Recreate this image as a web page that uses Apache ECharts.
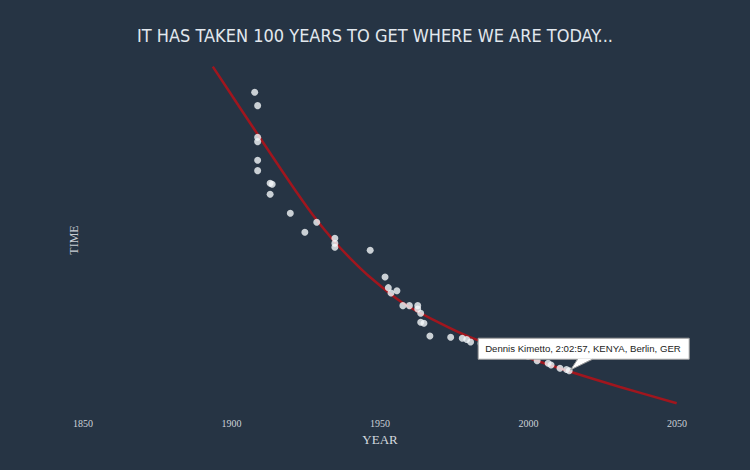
<!DOCTYPE html>
<html><head><meta charset="utf-8">
<script src="https://cdn.jsdelivr.net/npm/echarts@6/dist/echarts.min.js"></script>
<style>html,body{margin:0;padding:0;background:#263444}#c{width:750px;height:470px}</style>
</head><body><div id="c"></div>
<script>
const chartTitle = 'IT HAS TAKEN 100 YEARS TO GET WHERE WE ARE TODAY...';
const xAxisName = 'YEAR';
const yAxisName = 'TIME';
const xTicks = [1850, 1900, 1950, 2000, 2050];

// record points: decimal year and finishing time in seconds
const recordYears = [1907.8, 1908.8, 1908.8, 1908.8, 1908.8, 1908.8, 1913.0, 1913.7, 1913.0, 1919.8,
  1924.7, 1928.7, 1934.8, 1934.8, 1934.8, 1946.7, 1951.7, 1952.8, 1953.7, 1955.7,
  1957.7, 1959.9, 1962.7, 1962.7, 1963.7, 1963.7, 1964.8, 1966.8, 1973.8, 1977.7,
  1979.2, 1980.5, 1984.0, 1985.3, 1988.3, 1998.7, 1999.8, 2002.9, 2006.6, 2007.6,
  2010.6, 2012.8, 2013.7];
const recordSeconds = [10518, 10367, 10010, 9961, 9751, 9634, 9492, 9480, 9367, 9153,
  8939, 9052, 8871, 8815, 8770, 8736, 8435, 8314, 8254, 8280,
  8111, 8111, 8111, 8074, 8025, 7924, 7912, 7769, 7754, 7743,
  7730, 7701, 7685, 7632, 7610, 7565, 7542, 7490, 7461, 7442,
  7405, 7391, 7377];

// trend curve
const trendYears = [1893.7, 1902.9, 1913.0, 1921.4, 1928.7, 1934.8, 1939.9, 1946.6, 1957.7, 1970.2, 1980.3, 1997.1, 2013.3, 2030.8, 2049.9];
const trendSeconds = [10807, 10341, 9833, 9416, 9076, 8829, 8648, 8434, 8141, 7915, 7757, 7554, 7374, 7194, 7010];

const calloutYear = 2013.7;
const calloutSeconds = 7377;
const calloutText = 'Dennis Kimetto, 2:02:57, KENYA, Berlin, GER';

const chart = echarts.init(document.getElementById('c'), null, {renderer: 'svg'});
const serif = "'Liberation Serif', 'DejaVu Serif', serif";
chart.setOption({
  backgroundColor: '#263444',
  animation: false,
  title: {
    text: chartTitle, left: 'center', top: 21,
    textStyle: {color: '#e2e8ee', fontSize: 18, fontWeight: 'normal',
      fontFamily: "'Liberation Sans Narrow', 'DejaVu Sans Condensed', sans-serif"}
  },
  grid: {left: 83, right: 73, top: 60, bottom: 60},
  xAxis: {
    type: 'value', min: xTicks[0], max: xTicks[xTicks.length - 1], interval: 50,
    name: xAxisName, nameLocation: 'middle', nameGap: 19,
    nameTextStyle: {color: '#d3d9df', fontSize: 13, fontFamily: serif},
    axisLine: {show: false}, axisTick: {show: false}, splitLine: {show: false},
    axisLabel: {color: '#ccd2d8', fontSize: 10, fontFamily: serif, margin: 8,
      formatter: v => String(v)}
  },
  yAxis: {
    type: 'value', min: 6934, max: 10882,
    name: yAxisName, nameLocation: 'middle', nameGap: 3, nameRotate: 90,
    nameTextStyle: {color: '#c8ced4', fontSize: 12, fontFamily: serif, padding: [0, 10, 0, 0]},
    axisLine: {show: false}, axisTick: {show: false}, splitLine: {show: false},
    axisLabel: {show: false}
  },
  series: [
    {
      type: 'line', data: trendYears.map((y, i) => [y, trendSeconds[i]]),
      smooth: 0.35, symbol: 'none', z: 2,
      lineStyle: {color: '#a0161e', width: 2.5}
    },
    {
      type: 'scatter', data: recordYears.map((y, i) => [y, recordSeconds[i]]),
      symbolSize: 7, z: 3,
      itemStyle: {color: '#f4f7fa'}
    }
  ]
});

const p = chart.convertToPixel({xAxisIndex: 0, yAxisIndex: 0}, [calloutYear, calloutSeconds]);
const bx = p[0] - 91, by = p[1] - 32.5, bw = 211, bh = 21;
chart.setOption({
  graphic: [
    {type: 'rect', z: 100, shape: {x: bx, y: by, width: bw, height: bh},
      style: {fill: '#ffffff', stroke: '#a0a0a0', lineWidth: 1}},
    {type: 'polygon', z: 101, shape: {points: [[p[0] + 8.5, by + bh - 0.5], [p[0] + 23.5, by + bh - 0.5], [p[0] + 1.5, p[1] - 1]]},
      style: {fill: '#ffffff'}},
    {type: 'polyline', z: 102, shape: {points: [[p[0] + 8.5, by + bh], [p[0] + 1.5, p[1] - 1], [p[0] + 23.5, by + bh]]},
      style: {stroke: '#a0a0a0', lineWidth: 1, fill: null}},
    {type: 'text', z: 103, x: bx + 7, y: by + bh / 2,
      style: {text: calloutText, fill: '#222222', fontSize: 9.6,
        fontFamily: "'Liberation Sans', Arial, sans-serif", verticalAlign: 'middle', align: 'left'}}
  ]
});
</script></body></html>
